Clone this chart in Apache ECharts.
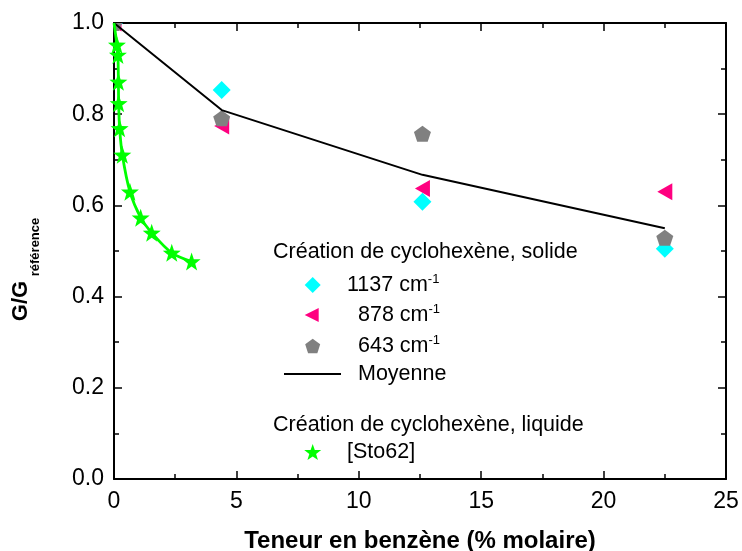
<!DOCTYPE html>
<html>
<head>
<meta charset="utf-8">
<script src="https://cdn.jsdelivr.net/npm/echarts@6/dist/echarts.min.js"></script>
<style>
  html, body { margin: 0; padding: 0; background: #ffffff; }
  #chart { width: 742px; height: 551px; }
</style>
</head>
<body>
<div id="chart"></div>
<script>
// Benzene content (% molar) for the solid-state measurements
const xSolid = [0, 4.4, 12.6, 22.5];
// Relative conductance G/G_ref for each IR band
const y1137 = [1.0, 0.853, 0.608, 0.505];
const y878 = [1.0, 0.774, 0.637, 0.630];
const y643 = [1.0, 0.791, 0.757, 0.529];
const yMoyenne = [1.0, 0.809, 0.667, 0.550];

// Liquid-phase literature data [Sto62]
const xSto62 = [0, 0.12, 0.16, 0.18, 0.19, 0.23, 0.34, 0.65, 1.09, 1.54, 2.36, 3.17];
const ySto62 = [1.0, 0.952, 0.930, 0.871, 0.824, 0.769, 0.711, 0.630, 0.573, 0.540, 0.496, 0.477];

// Axis tick labels
const xTickLabels = ['0', '5', '10', '15', '20', '25'];
const yTickLabels = ['0.0', '0.2', '0.4', '0.6', '0.8', '1.0'];

// Series names and legend headings
const names = ['1137 cm-1', '878 cm-1', '643 cm-1', 'Moyenne', '[Sto62]'];
const headerSolid = 'Création de cyclohexène, solide';
const headerLiquid = 'Création de cyclohexène, liquide';

const FONT = '"Liberation Sans", Arial, Helvetica, sans-serif';

// Marker shapes
const DIAMOND = 'path://M5,0L10,5L5,10L0,5Z';
const TRI_LEFT = 'path://M0,5L10,0L10,10Z';
const PENTAGON = 'path://M50,0L100,36.3L80.9,95.1L19.1,95.1L0,36.3Z';
const STAR = 'path://M50,0L61.76,33.82L97.55,34.55L69.02,56.18L79.39,90.45L50,70L20.61,90.45L30.98,56.18L2.45,34.55L38.24,33.82Z';

const zip = (xs, ys) => xs.map((x, i) => [x, ys[i]]);

const stoData = zip(xSto62, ySto62).map((p, i) =>
  i === 0 ? { value: p, symbol: 'none' } : p);

// Point markers drawn as custom items so they are clipped at the frame
function markerSeries(name, ys, symbol, w, h, color) {
  const pathData = symbol.slice(7);
  return {
    name: name,
    type: 'custom',
    data: zip(xSolid, ys),
    encode: { x: 0, y: 1 },
    clip: true,
    itemStyle: { color: color },
    renderItem: function (params, api) {
      const p = api.coord([api.value(0), api.value(1)]);
      return {
        type: 'path',
        shape: { pathData: pathData, x: p[0] - w / 2, y: p[1] - h / 2, width: w, height: h, layout: 'cover' },
        style: { fill: color }
      };
    }
  };
}

const legendText = {
  fontFamily: FONT,
  fontSize: 21.5,
  color: '#000',
  lineHeight: 24,
  rich: {
    sup: { fontFamily: FONT, fontSize: 13, lineHeight: 10, verticalAlign: 'top', color: '#000' }
  }
};
const legendFormatter = n => n.replace('cm-1', 'cm{sup|-1}');

function legendRow(name, left, top, w, h, padLeft, icon) {
  return {
    data: [{ name: name, icon: icon }],
    left: left,
    top: top,
    orient: 'horizontal',
    padding: 0,
    itemGap: 0,
    itemWidth: w,
    itemHeight: h,
    selectedMode: false,
    symbolKeepAspect: icon !== 'rect',
    formatter: legendFormatter,
    textStyle: Object.assign({}, legendText, { padding: [0, 0, 0, padLeft] })
  };
}

const chart = echarts.init(document.getElementById('chart'), null, { renderer: 'canvas' });

const axisLine = { show: true, onZero: false, lineStyle: { color: '#000', width: 2 } };
const tick = { show: true, inside: true, length: 8, lineStyle: { color: '#000', width: 1.5 } };
const minor = { show: true, splitNumber: 2, length: 5, lineStyle: { color: '#000', width: 1.5 } };

chart.setOption({
  animation: false,
  backgroundColor: '#ffffff',
  grid: { left: 114, right: 16, top: 23, bottom: 72, containLabel: false, outerBoundsMode: 'none' },
  xAxis: [
    {
      type: 'value', min: 0, max: 25, interval: 5, position: 'bottom',
      axisLine: axisLine, axisTick: tick, minorTick: Object.assign({}, minor),
      splitLine: { show: false },
      axisLabel: {
        fontFamily: FONT, fontSize: 23, color: '#000', margin: 11,
        formatter: v => xTickLabels[Math.round(v / 5)]
      },
      name: 'Teneur en benzène (% molaire)',
      nameLocation: 'middle', nameGap: 50,
      nameTextStyle: { fontFamily: FONT, fontSize: 24, fontWeight: 'bold', color: '#000' }
    },
    {
      type: 'value', min: 0, max: 25, interval: 5, position: 'top',
      axisLine: axisLine, axisTick: tick, minorTick: Object.assign({}, minor),
      splitLine: { show: false }, axisLabel: { show: false }
    }
  ],
  yAxis: [
    {
      type: 'value', min: 0, max: 1, interval: 0.2, position: 'left',
      axisLine: axisLine, axisTick: tick, minorTick: Object.assign({}, minor),
      splitLine: { show: false },
      axisLabel: {
        fontFamily: FONT, fontSize: 23, color: '#000', margin: 10,
        formatter: v => yTickLabels[Math.round(v / 0.2)]
      }
    },
    {
      type: 'value', min: 0, max: 1, interval: 0.2, position: 'right',
      axisLine: axisLine, axisTick: tick, minorTick: Object.assign({}, minor),
      splitLine: { show: false }, axisLabel: { show: false }
    }
  ],
  legend: [
    legendRow(names[0], 304.7, 273, 16, 16, 21.3, DIAMOND),
    legendRow(names[1], 304.7, 303, 14, 15, 34.3, TRI_LEFT),
    legendRow(names[2], 305.2, 334, 15, 15, 32.8, PENTAGON),
    legendRow(names[3], 284, 362, 57, 2, 12, 'rect'),
    legendRow(names[4], 304.2, 440, 17, 17, 20.8, STAR)
  ],
  graphic: [
    {
      type: 'text', left: 273, top: 241,
      style: { text: headerSolid, font: '21.5px ' + FONT, fill: '#000' }
    },
    {
      type: 'text', left: 273, top: 414,
      style: { text: headerLiquid, font: '21.5px ' + FONT, fill: '#000' }
    },
    {
      type: 'text', x: 21, y: 301, rotation: Math.PI / 2,
      style: { text: 'G/G', font: 'bold 22px ' + FONT, fill: '#000', align: 'center', verticalAlign: 'middle' }
    },
    {
      type: 'text', x: 35, y: 247, rotation: Math.PI / 2,
      style: { text: 'référence', font: 'bold 13px ' + FONT, fill: '#000', align: 'center', verticalAlign: 'middle' }
    }
  ],
  series: [
    markerSeries(names[0], y1137, DIAMOND, 18, 18, '#00FFFF'),
    markerSeries(names[1], y878, TRI_LEFT, 15, 17, '#FF0080'),
    markerSeries(names[2], y643, PENTAGON, 17, 16, '#808080'),
    {
      name: names[3], type: 'line', data: zip(xSolid, yMoyenne),
      symbol: 'none', lineStyle: { color: '#000', width: 2 },
      itemStyle: { color: '#000' }
    },
    {
      name: names[4], type: 'line', data: stoData, smooth: 0.3,
      symbol: STAR, symbolSize: 18, showSymbol: true,
      lineStyle: { color: '#00FF00', width: 2.8 },
      itemStyle: { color: '#00FF00' }
    }
  ]
});
</script>
</body>
</html>
